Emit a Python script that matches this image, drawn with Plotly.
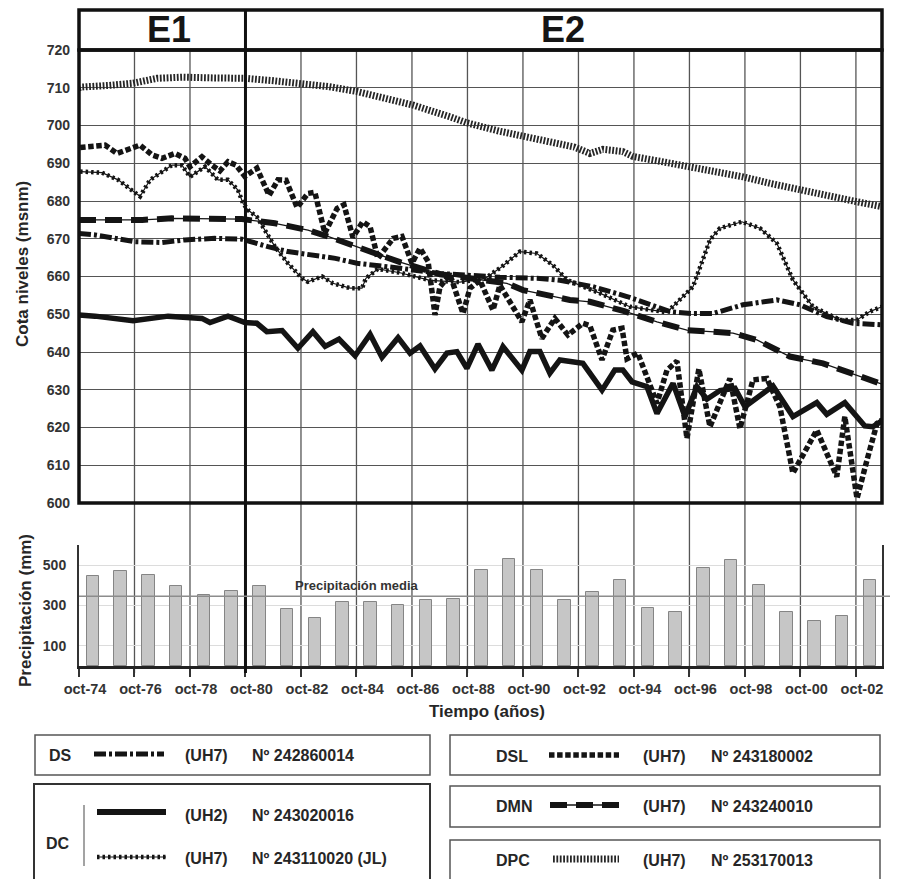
import plotly.graph_objects as go

W, H = 898, 879
OFF = 8  # page body margin in the browser
def px(x):
    return (x - OFF) / W
def py(y):
    return 1 - (y - OFF) / H

FONT = "Liberation Sans, Arial, sans-serif"
TXT = "#262626"

# ---------------- data (decimal years, level in m a.s.l.) ----------------
dpc_t = [1974.75, 1974.86, 1975.8, 1976.7, 1977.56, 1978.5, 1979.6, 1980.73, 1981.7, 1982.71,
         1983.75, 1984.77, 1985.8, 1986.79, 1988.12, 1988.73, 1989.9, 1991.0, 1992.08, 1992.6,
         1993.16, 1993.63, 1994.35, 1994.71, 1995.7, 1996.77, 1997.7, 1998.68, 1999.7, 2000.73,
         2001.8, 2002.79, 2003.69]
dpc_v = [710.0, 710.2, 710.6, 711.2, 712.5, 712.8, 712.6, 712.5, 711.9, 711.2,
         710.3, 709.0, 707.4, 705.4, 702.3, 700.7, 698.5, 696.8, 695.5, 694.3,
         692.6, 693.7, 693.1, 691.8, 690.5, 689.1, 687.8, 686.4, 684.6, 682.9,
         681.3, 679.8, 678.5]

ds_t = [1974.75, 1975.33, 1976.0, 1976.77, 1977.74, 1978.57, 1979.65, 1980.62, 1981.56, 1982.28,
        1983.99, 1984.77, 1986.32, 1987.76, 1989.92, 1991.36, 1992.08, 1993.27, 1994.5, 1995.3,
        1996.05, 1996.8, 1997.6, 1998.68, 1999.9, 2000.73, 2001.7, 2002.64, 2003.69]
ds_v = [671.4, 671.0, 670.2, 669.2, 669.0, 669.7, 670.1, 669.9, 667.9, 666.6,
        664.8, 663.5, 662.2, 660.8, 659.8, 659.5, 659.0, 657.3, 654.7, 652.5,
        650.7, 650.2, 650.2, 652.5, 653.8, 652.5, 649.4, 647.6, 647.2]

dmn_t = [1974.75, 1977.03, 1978.1, 1979.76, 1980.62, 1981.81, 1983.0, 1983.72, 1984.77, 1986.32,
         1987.76, 1989.0, 1990.17, 1990.75, 1992.44, 1993.16, 1994.4, 1995.58, 1996.66, 1997.5,
         1998.32, 1999.18, 2000.37, 2001.56, 2002.79, 2003.69]
dmn_v = [675.0, 675.0, 675.4, 675.2, 675.2, 674.1, 672.3, 670.6, 667.9, 663.8,
         660.6, 659.4, 658.2, 656.4, 653.8, 653.3, 650.8, 648.0, 645.8, 645.4,
         645.0, 643.2, 638.8, 637.0, 633.9, 631.5]

dc2_t = [1974.75, 1975.33, 1976.7, 1977.96, 1979.18, 1979.47, 1980.12, 1980.73, 1981.16, 1981.52,
         1982.07, 1982.64, 1983.18, 1983.62, 1984.12, 1984.7, 1985.24, 1985.67, 1986.25, 1986.68,
         1987.04, 1987.58, 1988.01, 1988.37, 1988.73, 1989.13, 1989.63, 1990.03, 1990.71, 1991.0,
         1991.36, 1991.72, 1992.08, 1992.91, 1993.6, 1994.06, 1994.35, 1994.68, 1995.22, 1995.58,
         1996.16, 1996.59, 1997.02, 1997.38, 1997.85, 1998.39, 1998.75, 1999.76, 2000.48, 2001.34,
         2001.7, 2002.35, 2003.07, 2003.36, 2003.69]
dc2_v = [649.8, 649.5, 648.3, 649.5, 648.9, 647.8, 649.5, 647.8, 647.6, 645.4,
         645.7, 641.0, 645.4, 641.5, 643.4, 639.0, 644.7, 638.6, 643.8, 639.7,
         641.6, 635.5, 639.7, 640.1, 635.7, 642.1, 635.2, 641.4, 635.2, 640.1,
         640.1, 634.4, 637.9, 637.0, 629.9, 635.2, 635.2, 632.1, 630.8, 623.7,
         631.7, 622.9, 630.8, 627.5, 629.8, 630.4, 625.5, 631.0, 622.9, 626.6,
         623.5, 626.6, 620.4, 620.2, 621.8]

dsl_t = [1974.79, 1975.69, 1976.12, 1976.95, 1977.38, 1977.74, 1978.21, 1978.57, 1978.75, 1979.18,
         1979.54, 1979.83, 1980.12, 1980.41, 1980.73, 1981.16, 1981.6, 1981.92, 1982.21, 1982.61,
         1983.0, 1983.25, 1983.61, 1984.05, 1984.3, 1984.62, 1984.98, 1985.24, 1985.52, 1986.07,
         1986.39, 1986.75, 1987.04, 1987.33, 1987.58, 1987.76, 1988.12, 1988.59, 1988.84, 1989.2,
         1989.67, 1989.92, 1990.71, 1991.0, 1991.43, 1991.9, 1992.37, 1992.91, 1993.16, 1993.6,
         1993.99, 1994.32, 1994.5, 1994.89, 1995.58, 1995.94, 1996.3, 1996.66, 1997.09, 1997.49,
         1998.21, 1998.57, 1999.04, 1999.54, 2000.01, 2000.48, 2001.34, 2002.06, 2002.35, 2002.79,
         2003.15, 2003.51, 2003.69]
dsl_v = [694.2, 694.8, 692.6, 694.8, 692.2, 691.3, 692.6, 691.3, 689.1, 691.7,
         689.5, 688.0, 690.4, 689.5, 686.5, 688.7, 681.5, 685.6, 685.5, 678.3,
         682.0, 682.3, 671.5, 678.0, 679.0, 670.4, 674.5, 673.2, 664.8, 670.1,
         670.6, 663.5, 667.5, 664.0, 649.8, 657.3, 660.5, 650.2, 656.9, 659.0,
         651.1, 657.7, 648.0, 653.8, 643.6, 648.9, 644.5, 647.6, 647.0, 637.9,
         645.8, 646.3, 638.2, 639.7, 626.4, 635.2, 637.6, 617.1, 635.5, 620.2,
         633.0, 619.7, 632.6, 633.0, 625.5, 607.9, 619.3, 607.0, 622.9, 601.2,
         611.4, 621.1, 622.0]

jl_t = [1974.79, 1975.58, 1976.16, 1976.95, 1977.31, 1978.1, 1978.46, 1978.75, 1979.29, 1979.76,
        1980.12, 1980.48, 1980.66, 1980.84, 1981.16, 1981.45, 1981.81, 1982.28, 1982.79, 1983.0,
        1983.51, 1983.9, 1984.52, 1984.95, 1985.09, 1985.52, 1986.32, 1987.4, 1988.48, 1989.38,
        1989.99, 1990.64, 1991.25, 1991.83, 1992.34, 1993.06, 1993.52, 1994.6, 1995.94, 1996.88,
        1997.49, 1997.85, 1998.64, 1999.29, 1999.9, 2000.48, 2001.2, 2002.17, 2002.79, 2003.25,
        2003.69]
jl_v = [687.8, 687.5, 685.6, 681.2, 685.6, 689.5, 689.5, 686.4, 689.1, 685.6,
        685.6, 682.9, 679.4, 677.6, 675.8, 672.3, 667.9, 663.5, 659.5, 658.6,
        660.0, 658.2, 656.9, 656.9, 659.5, 662.0, 661.0, 659.0, 658.5, 659.5,
        662.6, 666.6, 666.1, 663.0, 659.1, 656.9, 655.6, 652.0, 650.5, 657.3,
        669.7, 672.8, 674.5, 672.8, 668.8, 659.1, 652.0, 648.5, 648.5, 650.7,
        652.0]

# hydrological years (start in October) and annual precipitation (mm)
hydro_start = list(range(1974, 2003))
precip = [446, 471, 453, 395, 351, 370, 397, 285, 240, 318,
          316, 301, 326, 331, 477, 532, 477, 326, 367, 428,
          290, 268, 484, 528, 400, 267, 224, 248, 428]
precip_mean = 346

tick_years = list(range(1974, 2003, 2))
tick_text = ["oct-%02d" % (y % 100) for y in tick_years]
period_split = 1980  # October 1980: E1 / E2

# ---------------- helpers ----------------
oct_pos = [y + 0.75 for y in tick_years]
bar_pos = [y + 0.75 + 0.5 for y in hydro_start]
split_pos = period_split + 0.75
x_range = [1974.75, 2003.69]

fig = go.Figure()

LC = "#141414"

def line_trace(t, v, width, dash, color=LC):
    return go.Scatter(x=t, y=v, mode="lines", xaxis="x", yaxis="y",
                      line=dict(color=color, width=width, dash=dash),
                      hoverinfo="skip", showlegend=False)

DPC_DASH = "1.8px,1.6px"
DS_DASH = "12px,3px,3px,3px"
DMN_DASH = "17px,9px"
JL_DASH = "2.5px,3px"
DSL_DASH = "5.5px,2.6px"

# DPC hatched
fig.add_trace(line_trace(dpc_t, dpc_v, 7, DPC_DASH, "#262626"))
# DS dash-dot
fig.add_trace(line_trace(ds_t, ds_v, 5, DS_DASH))
# DMN thin line + long dashes
fig.add_trace(line_trace(dmn_t, dmn_v, 1.3, "solid"))
fig.add_trace(line_trace(dmn_t, dmn_v, 6, DMN_DASH))
# DC UH7 (JL): thin line + dots
fig.add_trace(line_trace(jl_t, jl_v, 1.2, "solid"))
fig.add_trace(line_trace(jl_t, jl_v, 4.5, JL_DASH))
# DSL dashed squares
fig.add_trace(line_trace(dsl_t, dsl_v, 5.5, DSL_DASH))
# DC UH2 solid
fig.add_trace(line_trace(dc2_t, dc2_v, 5.5, "solid"))

# precipitation bars
fig.add_trace(go.Bar(x=bar_pos, y=precip, xaxis="x2", yaxis="y2", width=0.45,
                     marker=dict(color="#c6c6c6", line=dict(color="#858585", width=1)),
                     hoverinfo="skip", showlegend=False))

shapes = []
# vertical grid lines through both panels
for xp in oct_pos[1:]:
    if abs(xp - split_pos) < 1e-6:
        continue
    shapes.append(dict(type="line", xref="x", yref="paper", x0=xp, x1=xp,
                       y0=py(673), y1=py(50), line=dict(color="#555", width=1.3), layer="below"))
# E1/E2 separator
shapes.append(dict(type="line", xref="x", yref="paper", x0=split_pos, x1=split_pos,
                   y0=py(673), y1=py(10), line=dict(color="#111", width=3)))
# main frame
shapes.append(dict(type="rect", xref="x domain", yref="y domain", x0=0, x1=1, y0=0, y1=1,
                   line=dict(color="#111", width=3.5)))
# header band
shapes.append(dict(type="rect", xref="x domain", yref="paper", x0=0, x1=1,
                   y0=py(50), y1=py(10), line=dict(color="#111", width=3.5)))
# mean precipitation line
shapes.append(dict(type="line", xref="x2 domain", yref="y2", x0=0, x1=1.01,
                   y0=precip_mean, y1=precip_mean, line=dict(color="#8c8c8c", width=1.5)))

annotations = []
def ann(x, y, text, size, xanchor="center", angle=0, color=TXT):
    annotations.append(dict(x=px(x), y=py(y), xref="paper", yref="paper", text=text,
                            showarrow=False, xanchor=xanchor, yanchor="middle", textangle=angle,
                            font=dict(family=FONT, size=size, color=color, weight="bold")))

ann(169, 30, "E1", 36, color="#151515")
ann(563, 30, "E2", 36, color="#151515")
ann(22, 264, "Cota niveles (msnm)", 17, angle=-90)
ann(25, 611, "Precipitación (mm)", 17, angle=-90)
ann(487, 711, "Tiempo (años)", 17)
annotations.append(dict(x=1984.77, y=397, xref="x2", yref="y2", text="Precipitación media",
                        showarrow=False, xanchor="center", yanchor="middle",
                        font=dict(family=FONT, size=13, color="#333", weight="bold")))

# ---------------- legend boxes ----------------
def rect(x0, y0, x1, y1, w=1.5, c="#555"):
    shapes.append(dict(type="rect", xref="paper", yref="paper", x0=px(x0), x1=px(x1),
                       y0=py(y1), y1=py(y0), line=dict(color=c, width=w)))
def seg(x0, x1, y, w, dash="solid", c=LC):
    shapes.append(dict(type="line", xref="paper", yref="paper", x0=px(x0), x1=px(x1),
                       y0=py(y), y1=py(y), line=dict(color=c, width=w, dash=dash)))

LS = 16
rect(35, 735, 430, 775)
ann(47, 755, "DS", LS, "left")
seg(94, 164, 754, 5, DS_DASH)
ann(183, 755, "(UH7)", LS, "left")
ann(250, 755, "Nº 242860014", LS, "left")

rect(34, 784, 430, 900, 2, "#333")
ann(44, 843, "DC", LS, "left")
shapes.append(dict(type="line", xref="paper", yref="paper", x0=px(84), x1=px(84),
                   y0=py(866), y1=py(805), line=dict(color="#666", width=1.2)))
seg(97, 166, 812, 6)
ann(183, 815, "(UH2)", LS, "left")
ann(250, 815, "Nº 243020016", LS, "left")
seg(97, 166, 857, 1.2)
seg(97, 166, 857, 4.5, JL_DASH)
ann(183, 858, "(UH7)", LS, "left")
ann(250, 858, "Nº 243110020 (JL)", LS, "left")

rect(450, 735, 880, 775)
ann(494, 756, "DSL", LS, "left")
seg(549, 619, 755, 5.5, DSL_DASH)
ann(641, 756, "(UH7)", LS, "left")
ann(709, 756, "Nº 243180002", LS, "left")

rect(450, 786, 880, 827)
ann(494, 806, "DMN", LS, "left")
seg(550, 619, 805, 1.3)
seg(550, 619, 805, 6, DMN_DASH)
ann(641, 806, "(UH7)", LS, "left")
ann(709, 806, "Nº 243240010", LS, "left")

rect(450, 840, 880, 900)
ann(494, 860, "DPC", LS, "left")
seg(553, 619, 859, 7, DPC_DASH, "#262626")
ann(641, 860, "(UH7)", LS, "left")
ann(709, 860, "Nº 253170013", LS, "left")

tickfont = dict(family=FONT, size=14, color="#333", weight="bold")

fig.update_layout(
    width=W, height=H, autosize=False,
    margin=dict(l=0, r=0, t=0, b=0, pad=0, autoexpand=False),
    paper_bgcolor="white", plot_bgcolor="rgba(0,0,0,0)",
    showlegend=False,
    bargap=0,
    xaxis=dict(domain=[px(79), px(882)], range=x_range, anchor="y", automargin=False,
               showticklabels=False, showgrid=False, zeroline=False, showline=False, ticks=""),
    yaxis=dict(domain=[py(503), py(50)], range=[600, 720], tick0=600, dtick=10, automargin=False,
               showgrid=True, gridcolor="#555", gridwidth=1.3, zeroline=False,
               ticks="", ticklabelstandoff=8, tickfont=tickfont, showline=False),
    xaxis2=dict(domain=[px(79), px(882)], range=x_range, anchor="y2", automargin=False,
                tickmode="array", tickvals=oct_pos, ticktext=tick_text,
                ticks="outside", ticklen=8, tickwidth=1.5, tickcolor="#333",
                showline=True, linecolor="#222", linewidth=2.5, showgrid=False, zeroline=False,
                tickfont=dict(family=FONT, size=14.5, color="#333", weight="bold"),
                ticklabelshift=6),
    yaxis2=dict(domain=[py(666), py(545)], range=[0, 600], tickmode="array", automargin=False,
                tickvals=[100, 300, 500], showgrid=True, gridcolor="#dcdcdc", gridwidth=1,
                zeroline=False, showline=True, mirror=True, linecolor="#333", linewidth=2,
                ticks="", ticklabelstandoff=8, tickfont=tickfont),
    shapes=shapes,
    annotations=annotations,
)

fig.write_html("out.html")
